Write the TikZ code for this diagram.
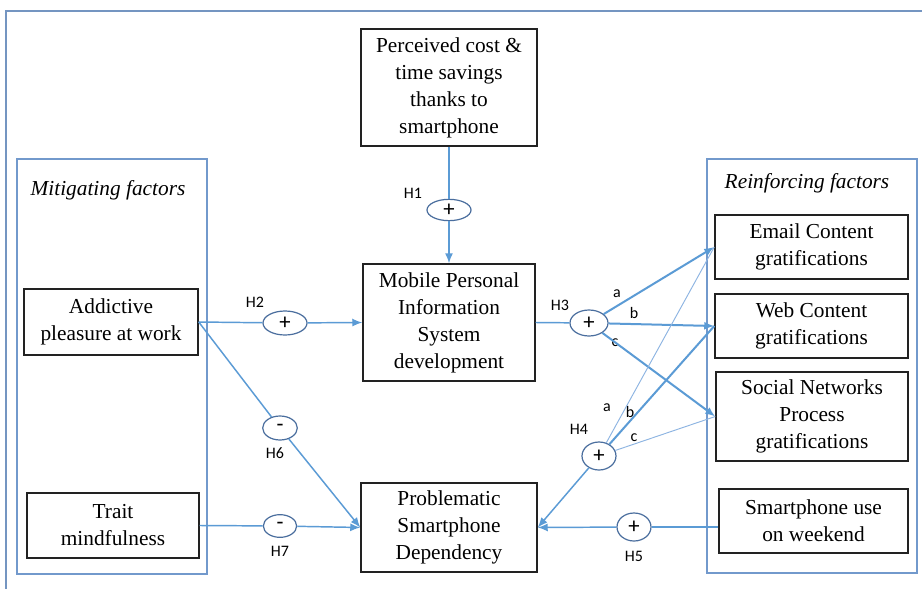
\documentclass[tikz,border=0pt]{standalone}
\usepackage{fontspec}
\setmainfont{Liberation Serif}
\newfontfamily\lblfont{Carlito}
\usetikzlibrary{arrows.meta,shapes.geometric}
\definecolor{conn}{HTML}{5B9BD5}
\definecolor{connlight}{HTML}{8DB4E2}
\definecolor{framec}{HTML}{7299CC}
\definecolor{ellc}{HTML}{4A6E9E}
\definecolor{boxc}{HTML}{222222}
\tikzset{
  stdbox/.style={draw=boxc,line width=1.1pt,align=center,inner sep=2pt,
    font=\fontsize{16}{20.25}\selectfont},
  grp/.style={draw=framec,line width=1pt},
  ell/.style={ellipse,draw=ellc,line width=0.9pt,fill=white,inner sep=0pt,
    font=\lblfont\fontsize{17}{17}\selectfont},
  lbl/.style={font=\lblfont\fontsize{12}{12}\selectfont,inner sep=0pt},
  conline/.style={draw=conn,line width=1.1pt},
  thick conline/.style={draw=conn,line width=1.5pt},
  thin conline/.style={draw=connlight,line width=0.7pt},
  tip/.style={-{Latex[length=7.5pt,width=6pt]}},
  grouptitle/.style={font=\itshape\fontsize{16}{20}\selectfont,inner sep=0pt}
}
\begin{document}
\begin{tikzpicture}[x=0.75pt,y=-0.75pt]
\clip (0,0) rectangle (922,589);
\fill[white] (0,0) rectangle (922,589);
% outer frame (runs beyond the right and bottom edges)
\draw[grp,draw=framec!85!gray] (6,11) rectangle (960,620);
% group frames
\draw[grp] (17,159) rectangle (207,574);
\draw[grp] (707,159) rectangle (917,573);
\node[grouptitle] (mitt) at (108,190) {Mitigating factors};
\node[grouptitle] (reit) at (807,183) {Reinforcing factors};
% boxes
\node[stdbox,minimum width=132pt,minimum height=87.75pt] (perc) at (449,87.5)
  {Perceived cost \&\\time savings\\thanks to\\smartphone};
\node[stdbox,minimum width=129pt,minimum height=87.75pt] (mob) at (449,322.5)
  {Mobile Personal\\Information\\System\\development};
\node[stdbox,minimum width=132pt,minimum height=66.75pt] (prob) at (449,527.5)
  {Problematic\\Smartphone\\Dependency};
\node[stdbox,minimum width=130.5pt,minimum height=49.5pt] (add) at (111,322)
  {Addictive\\pleasure at work};
\node[stdbox,minimum width=129pt,minimum height=48.75pt] (trait) at (113,525.5)
  {Trait\\mindfulness};
\node[stdbox,minimum width=144.75pt,minimum height=48pt] (email) at (811.5,247)
  {Email Content\\gratifications};
\node[stdbox,minimum width=144.75pt,minimum height=48pt] (web) at (811.5,326)
  {Web Content\\gratifications};
\node[stdbox,minimum width=144pt,minimum height=66.75pt] (social) at (812,416.5)
  {Social Networks\\Process\\gratifications};
\node[stdbox,minimum width=141.75pt,minimum height=48pt] (smart) at (813.5,521)
  {Smartphone use\\on weekend};
% moderators
\node[ell,minimum width=33pt,minimum height=16pt] (h1) at (449,210) {+};
\node[ell,minimum width=33pt,minimum height=18pt] (h2) at (285,323) {+};
\node[ell,minimum width=28.5pt,minimum height=19.5pt] (h3) at (589,323) {+};
\node[ell,minimum width=25.5pt,minimum height=21pt] (h4) at (599,456) {+};
\node[ell,minimum width=25.5pt,minimum height=21pt] (h5) at (634,527) {+};
\node[ell,minimum width=26pt,minimum height=18pt] (h6) at (280,428) {-};
\node[ell,minimum width=25pt,minimum height=17pt] (h7) at (280,526) {-};
% labels
\node[lbl] (l1) at (413,193) {H1};
\node[lbl] (l2) at (255,302) {H2};
\node[lbl] (l3) at (560,305) {H3};
\node[lbl] (l4) at (579,429) {H4};
\node[lbl] (l5) at (634,556) {H5};
\node[lbl] (l6) at (275,453) {H6};
\node[lbl] (l7) at (280,551) {H7};
\node[lbl] (l3a) at (617,294) {a};
\node[lbl] (l3b) at (634,313) {b};
\node[lbl] (l3c) at (615,343) {c};
\node[lbl] (l4a) at (607,408) {a};
\node[lbl] (l4b) at (630,412) {b};
\node[lbl] (l4c) at (634,438) {c};
% connectors
\draw[conline] (perc.south) -- (h1);
\draw[conline,tip] (h1) -- (mob.north);
\draw[conline] (add.east) -- (h2);
\draw[conline,tip] (h2) -- (mob.west);
\draw[conline] (mob.east) -- (h3);
\draw[thick conline,tip] (h3) -- (email.west);
\draw[thick conline,tip] (h3) -- (web.west);
\draw[thick conline,tip] (h3) -- (social.west);
\draw[thin conline] (h4) -- (email.west);
\draw[thick conline] (h4) -- (web.west);
\draw[thin conline] (h4) -- (social.west);
\draw[conline,tip] (h4) -- (prob.east);
\draw[conline] (smart.west |- h5) -- (h5);
\draw[conline,tip] (h5) -- (prob.east);
\draw[conline] (add.east) -- (h6);
\draw[conline,tip] (h6) -- (prob.west);
\draw[conline] (trait.east) -- (h7);
\draw[conline,tip] (h7) -- (prob.west);
\end{tikzpicture}
\end{document}
